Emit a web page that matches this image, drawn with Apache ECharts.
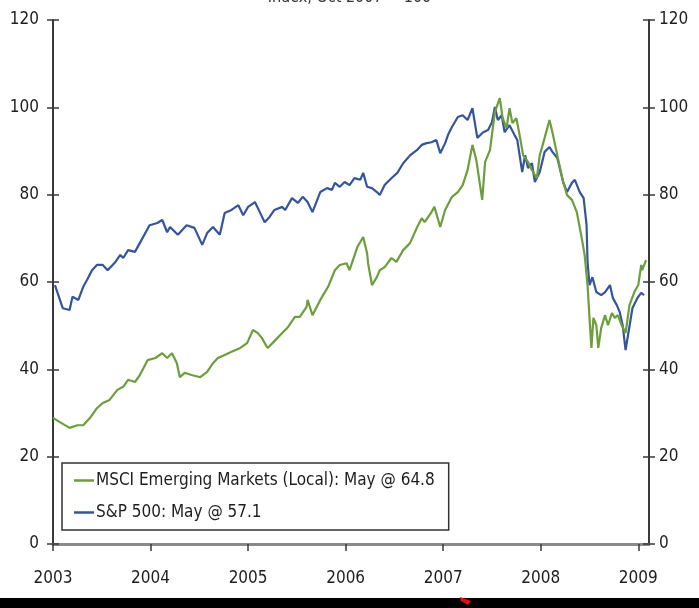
<!DOCTYPE html>
<html>
<head>
<meta charset="utf-8">
<script src="https://cdn.jsdelivr.net/npm/echarts@6/dist/echarts.min.js"></script>
<style>
html,body{margin:0;padding:0;background:#fff;}
#chart{width:699px;height:608px;}
</style>
</head>
<body>
<div id="chart"></div>
<script>
// S&P 500, index Oct 2007 = 100 (x in decimal years)
var spYears = [2003.02,2003.10,2003.17,2003.20,2003.26,2003.31,2003.35,2003.40,2003.45,2003.51,2003.56,2003.64,2003.69,2003.72,2003.77,2003.84,2003.89,2003.99,
  2004.07,2004.12,2004.17,2004.20,2004.28,2004.37,2004.45,2004.53,2004.58,2004.64,2004.71,2004.76,2004.83,2004.90,2004.95,2005.00,
  2005.07,2005.12,2005.17,2005.22,2005.27,2005.35,2005.38,2005.45,2005.51,2005.56,2005.61,2005.66,2005.74,2005.81,2005.86,2005.89,2005.94,2005.99,
  2006.04,2006.09,2006.15,2006.18,2006.22,2006.27,2006.32,2006.35,2006.40,2006.43,2006.48,2006.53,2006.59,2006.66,2006.73,2006.78,2006.83,2006.88,2006.93,2006.97,
  2007.02,2007.05,2007.09,2007.15,2007.20,2007.25,2007.30,2007.35,2007.41,2007.46,2007.50,2007.53,2007.56,2007.60,2007.63,2007.68,2007.73,2007.76,2007.81,2007.84,2007.87,2007.91,2007.94,2007.99,
  2008.04,2008.09,2008.12,2008.17,2008.23,2008.27,2008.32,2008.35,2008.40,2008.44,2008.47,2008.48,2008.50,2008.53,2008.57,2008.62,2008.66,2008.71,2008.74,2008.78,2008.81,2008.84,2008.87,2008.90,2008.94,2008.99,
  2009.03,2009.06];
var spValues = [59.3,54.0,53.6,56.6,55.9,58.9,60.5,62.7,63.9,63.9,62.7,64.6,66.2,65.5,67.3,66.9,68.9,73.0,
  73.5,74.2,71.4,72.6,70.8,73.0,72.4,68.5,71.2,72.6,70.8,75.8,76.5,77.6,75.3,77.2,
  78.3,76.0,73.7,74.9,76.5,77.2,76.5,79.2,78.1,79.5,78.3,76.0,80.6,81.5,81.1,82.7,81.8,82.9,
  82.2,83.8,83.4,85.0,81.8,81.5,80.6,79.9,82.2,82.9,84.0,85.0,87.2,89.0,90.2,91.4,91.8,92.0,92.5,89.5,
  91.8,93.7,95.5,97.8,98.2,97.1,99.8,93.0,94.3,94.8,96.6,100.1,97.1,98.2,94.3,95.9,93.7,92.5,85.2,89.0,86.1,87.2,82.9,85.2,
  89.8,90.9,89.8,88.4,82.9,80.6,82.7,83.4,80.6,79.2,73.0,64.6,59.3,61.1,57.7,57.0,57.7,59.3,56.3,54.7,53.1,50.1,44.4,48.5,54.0,56.3,
  57.5,57.0];

// MSCI Emerging Markets (Local)
var emYears = [2003.00,2003.07,2003.17,2003.25,2003.31,2003.38,2003.45,2003.51,2003.58,2003.66,2003.72,2003.77,2003.84,2003.89,2003.97,
  2004.05,2004.12,2004.17,2004.22,2004.27,2004.30,2004.35,2004.42,2004.51,2004.58,2004.64,2004.69,2004.76,2004.83,2004.92,2004.99,
  2005.05,2005.10,2005.14,2005.20,2005.25,2005.35,2005.41,2005.48,2005.53,2005.60,2005.61,2005.66,2005.74,2005.82,2005.89,2005.94,
  2006.01,2006.04,2006.12,2006.18,2006.22,2006.23,2006.27,2006.32,2006.35,2006.40,2006.47,2006.52,2006.59,2006.66,2006.73,2006.78,2006.81,2006.88,2006.91,2006.97,
  2007.02,2007.09,2007.15,2007.20,2007.25,2007.30,2007.34,2007.40,2007.43,2007.48,2007.53,2007.58,2007.61,2007.65,2007.68,2007.71,2007.75,2007.78,2007.82,2007.87,2007.91,2007.96,2007.99,
  2008.04,2008.09,2008.12,2008.17,2008.23,2008.27,2008.32,2008.37,2008.42,2008.45,2008.48,2008.50,2008.52,2008.54,2008.57,2008.59,2008.62,2008.66,2008.69,2008.73,2008.76,2008.79,2008.83,2008.87,2008.91,2008.96,
  2009.00,2009.03,2009.04,2009.08];
var emValues = [28.9,27.9,26.6,27.2,27.2,28.9,31.1,32.3,33.0,35.3,36.0,37.6,37.1,38.7,42.1,
  42.6,43.7,42.6,43.7,41.4,38.2,39.2,38.7,38.2,39.4,41.4,42.6,43.3,44.0,44.9,46.0,
  49.0,48.3,47.2,44.9,46.0,48.3,49.7,52.0,52.0,54.3,55.9,52.4,55.9,58.9,62.7,63.9,
  64.3,62.7,68.0,70.3,66.6,64.3,59.3,61.1,62.7,63.4,65.5,64.6,67.3,68.9,72.4,74.6,73.7,76.0,77.2,72.6,
  76.5,79.5,80.6,82.2,85.6,91.4,87.9,78.8,87.5,90.2,98.9,102.1,97.5,95.3,99.8,96.4,97.5,94.1,89.0,87.5,85.6,83.8,89.0,
  93.0,97.1,94.3,89.0,82.9,79.9,78.8,76.0,70.1,66.2,59.3,51.8,44.9,51.8,50.1,44.9,49.5,52.4,50.1,52.9,51.8,52.4,50.1,48.3,54.7,57.7,
  59.3,63.9,62.7,65.0];

var emName = 'MSCI Emerging Markets (Local): May @ 64.8';
var spName = 'S&P 500: May @ 57.1';
var yearTicks = [2003, 2004, 2005, 2006, 2007, 2008, 2009];

function pairs(xs, ys){
  var out = [];
  for (var i = 0; i < xs.length; i++) out.push([xs[i], ys[i]]);
  return out;
}

var font = "'Liberation Sans Narrow', 'DejaVu Sans Condensed', 'Arial Narrow', sans-serif";
var axisDark = '#3a3a3a';

function yAx(pos, withLabel, inside){
  return {
    type: 'value', position: pos, min: 0, max: 120, interval: 20,
    splitLine: {show: false},
    axisLine: {show: withLabel, lineStyle: {color: axisDark, width: 2}},
    axisTick: {show: true, inside: inside, length: 6, lineStyle: {color: axisDark, width: 1.5}},
    axisLabel: {show: withLabel, color: '#1e1e1e', fontSize: 17, fontFamily: font, margin: pos == 'left' ? 14 : 10}
  };
}

var chart = echarts.init(document.getElementById('chart'));
var option = {
  animation: false,
  backgroundColor: '#fff',
  grid: {left: 53, right: 50, top: 20, bottom: 64, containLabel: false},
  xAxis: [{
    type: 'value', position: 'bottom', min: 2003, max: 2009.11, interval: 1,
    splitLine: {show: false},
    axisLine: {lineStyle: {color: axisDark, width: 2}},
    axisTick: {length: 7, lineStyle: {color: axisDark, width: 1.5}},
    axisLabel: {
      color: '#1e1e1e', fontSize: 17, fontFamily: font, margin: 26, showMaxLabel: false,
      formatter: function(v){ return yearTicks.indexOf(v) >= 0 ? String(v) : ''; }
    }
  }, {
    type: 'value', position: 'top', min: 2003, max: 2009.11,
    splitLine: {show: false},
    axisLine: {lineStyle: {color: '#8a8a8a', width: 3}},
    axisTick: {show: false},
    axisLabel: {show: false}
  }],
  yAxis: [yAx('left', true, false), yAx('left', false, true), yAx('right', true, false), yAx('right', false, true)],
  legend: {
    orient: 'vertical', left: 62, top: 463,
    data: [emName, spName],
    icon: 'rect', itemWidth: 20, itemHeight: 2.5, itemGap: 15,
    padding: [9, 14, 9, 12],
    borderColor: '#333', borderWidth: 1.5, backgroundColor: '#fff',
    textStyle: {color: '#1e1e1e', fontSize: 17, fontFamily: font, padding: [0, 0, 0, -3]}
  },
  graphic: [
    {type: 'text', left: 'center', top: -10, style: {text: 'Index, Oct 2007 = 100', fill: '#333', font: '16px ' + font}},
    {type: 'rect', left: 0, top: 598, shape: {width: 699, height: 10}, style: {fill: '#000'}},
    {type: 'polygon', shape: {points: [[460, 597], [471, 601], [468, 605], [461, 601]]}, style: {fill: '#e01010'}}
  ],
  series: [{
    name: spName, type: 'line', showSymbol: false, symbol: 'none',
    lineStyle: {color: '#34559c', width: 2.2}, itemStyle: {color: '#34559c'},
    data: pairs(spYears, spValues)
  }, {
    name: emName, type: 'line', showSymbol: false, symbol: 'none',
    lineStyle: {color: '#6c9e3c', width: 2.2}, itemStyle: {color: '#6c9e3c'},
    data: pairs(emYears, emValues)
  }]
};
chart.setOption(option);
</script>
</body>
</html>
